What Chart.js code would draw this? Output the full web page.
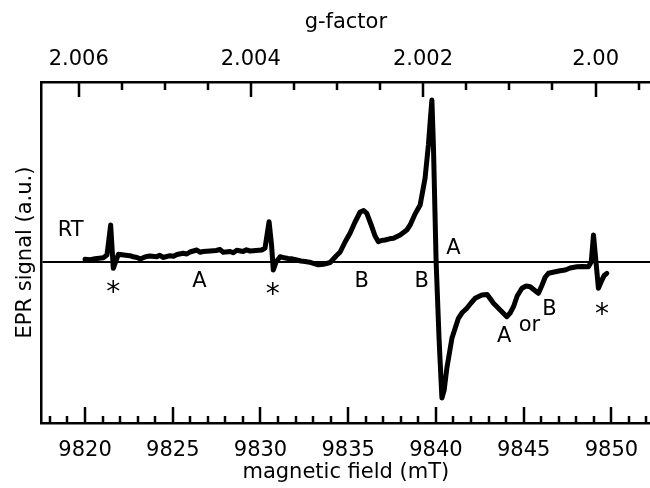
<!DOCTYPE html>
<html>
<head>
<meta charset="utf-8">
<script src="https://cdn.jsdelivr.net/npm/chart.js@4.4.1/dist/chart.umd.min.js"></script>
<style>
  html, body { margin: 0; padding: 0; background: #fff; }
  canvas { display: block; }
</style>
</head>
<body>
<canvas id="chart" width="650" height="488"></canvas>
<script>
// spectrum (field in mT, signal in a.u.)
const field = [
    9820.00, 9820.30, 9820.57, 9820.80, 9821.04, 9821.25, 9821.46, 9821.61, 9821.74, 9821.90,
    9822.20, 9822.56, 9822.75, 9822.96, 9823.15, 9823.32, 9823.50, 9823.70, 9824.09, 9824.25,
    9824.45, 9824.84, 9825.05, 9825.24, 9825.60, 9825.80, 9825.98, 9826.37, 9826.55, 9826.73,
    9827.13, 9827.47, 9827.70, 9827.88, 9828.27, 9828.45, 9828.65, 9829.01, 9829.20, 9829.41,
    9829.75, 9830.07, 9830.26, 9830.49, 9830.63, 9830.73, 9830.89, 9831.12, 9831.35, 9831.57,
    9831.80, 9832.07, 9832.30, 9832.54, 9832.80, 9833.01, 9833.30, 9833.58, 9833.97, 9834.31,
    9834.54, 9834.82, 9835.11, 9835.39, 9835.68, 9835.88, 9836.06, 9836.31, 9836.53, 9836.72,
    9836.90, 9837.10, 9837.35, 9837.58, 9837.96, 9838.34, 9838.53, 9838.81, 9839.10, 9839.38,
    9839.57, 9839.70, 9839.77, 9839.86, 9840.01, 9840.18, 9840.34, 9840.47, 9840.62, 9840.91,
    9841.28, 9841.50, 9841.76, 9842.00, 9842.23, 9842.62, 9842.92, 9843.28, 9843.66, 9844.04,
    9844.23, 9844.42, 9844.63, 9844.90, 9845.14, 9845.37, 9845.60, 9845.84, 9846.05, 9846.23,
    9846.41, 9846.74, 9847.08, 9847.37, 9847.65, 9848.03, 9848.34, 9848.69, 9848.85, 9848.98,
    9849.26, 9849.46, 9849.59, 9849.74
];
const signal = [
    0.27, 0.22, 0.33, 0.38, 0.43, 0.70, 3.70, -0.63, 0.00, 0.77,
    0.70, 0.63, 0.52, 0.45, 0.30, 0.43, 0.55, 0.60, 0.53, 0.68,
    0.45, 0.63, 0.58, 0.75, 0.87, 0.80, 1.00, 1.20, 0.98, 1.05,
    1.10, 1.15, 1.25, 0.97, 1.05, 0.92, 1.17, 1.05, 1.22, 1.10,
    1.15, 1.20, 1.40, 4.03, 1.70, -0.80, 0.00, 0.53, 0.42, 0.35,
    0.32, 0.20, 0.10, 0.05, -0.02, -0.13, -0.28, -0.23, -0.05, 0.60,
    1.00, 2.00, 2.90, 4.00, 5.00, 5.15, 4.87, 3.70, 2.60, 2.03,
    2.15, 2.20, 2.32, 2.37, 2.70, 3.20, 3.70, 4.80, 5.70, 8.37,
    11.70, 14.70, 16.20, 11.40, 0.03, -7.80, -13.60, -12.80, -10.63, -7.63,
    -5.63, -5.05, -4.63, -4.10, -3.63, -3.30, -3.25, -4.13, -4.80, -5.47,
    -5.10, -4.47, -3.40, -2.63, -2.40, -2.47, -2.80, -3.13, -2.30, -1.50,
    -1.13, -1.00, -0.87, -0.80, -0.60, -0.47, -0.45, -0.47, 0.00, 2.70,
    -2.63, -1.80, -1.35, -1.13
];

// axes
const fieldMin = 9817.53;
const fieldMax = 9852.2;
const signalMin = -16.1;
const signalMax = 18.0;
const fieldMajor = [9820, 9825, 9830, 9835, 9840, 9845, 9850];
const fieldMinorFirst = 9818;
const fieldMinorLast = 9852;
const gMajor = [2.006, 2.004, 2.002, 2.000];
const gLabels = ['2.006', '2.004', '2.002', '2.00'];
const gMinor = [2.0055, 2.0050, 2.0045, 2.0035, 2.0030, 2.0025, 2.0015, 2.0010, 2.0005, 1.9995];
const gTimesField = 19698.2;   // g * B (mT), from the 2.006 / 2.00 ticks

// labels written on the spectrum
const noteText = ['RT', '*', 'A', '*', 'B', 'B', 'A', 'A', 'or', 'B', '*'];
const noteField = [9819.18, 9821.61, 9826.52, 9830.70, 9835.77, 9839.19, 9840.99, 9843.89, 9845.33, 9846.47, 9849.46];
const noteSignal = [3.13, -3.2, -1.97, -3.37, -1.97, -1.97, 1.37, -7.47, -6.4, -4.8, -5.37];

const FONT = 'DejaVu Sans';
Chart.defaults.font.family = FONT;
Chart.defaults.font.size = 21;
Chart.defaults.color = '#000';

const points = field.map((b, i) => ({x: b, y: signal[i]}));

function fixWidth(w) {
    return function (scale) {
        scale.width = w;
        scale.paddingLeft = 0;
        scale.paddingRight = 0;
    };
}
function fixHeight(h) {
    return function (scale) {
        scale.height = h;
        scale.paddingLeft = 0;
        scale.paddingRight = 0;
    };
}

// ticks point into the plot, long ones at labelled values
const inwardTicks = {
    id: 'inwardTicks',
    afterDraw(chart) {
        const ctx = chart.ctx;
        const area = chart.chartArea;
        ctx.save();
        ctx.strokeStyle = '#000';
        ctx.lineWidth = 2.5;
        ctx.beginPath();
        chart.scales.x.ticks.forEach(t => {
            const px = Math.round(chart.scales.x.getPixelForValue(t.value));
            const len = t.long ? 16 : 7;
            ctx.moveTo(px, area.bottom);
            ctx.lineTo(px, area.bottom - len);
        });
        chart.scales.g.ticks.forEach(t => {
            const px = Math.round(chart.scales.g.getPixelForValue(t.value));
            const len = t.long ? 15 : 8;
            ctx.moveTo(px, area.top);
            ctx.lineTo(px, area.top + len);
        });
        ctx.stroke();

        ctx.fillStyle = '#000';
        ctx.textAlign = 'center';
        ctx.textBaseline = 'middle';
        noteText.forEach((txt, i) => {
            ctx.font = (txt === '*' ? 28 : 21) + 'px "' + FONT + '"';
            ctx.fillText(txt,
                chart.scales.x.getPixelForValue(noteField[i]),
                chart.scales.y.getPixelForValue(noteSignal[i]));
        });
        ctx.restore();
    }
};

const config = {
    type: 'line',
    data: {
        datasets: [{
            label: 'EPR',
            data: points,
            borderColor: '#000',
            borderWidth: 5,
            borderJoinStyle: 'round',
            borderCapStyle: 'round',
            pointRadius: 0,
            tension: 0,
            fill: false
        }]
    },
    options: {
        responsive: false,
        animation: false,
        layout: {padding: 0},
        plugins: {
            legend: {display: false},
            tooltip: {enabled: false}
        },
        scales: {
            x: {
                type: 'linear',
                position: 'bottom',
                min: fieldMin,
                max: fieldMax,
                afterBuildTicks(scale) {
                    const ticks = [];
                    for (let b = fieldMinorFirst; b <= fieldMinorLast; b++) {
                        ticks.push({value: b, long: fieldMajor.includes(b)});
                    }
                    scale.ticks = ticks;
                },
                afterFit: fixHeight(65),
                grid: {display: false, drawTicks: false},
                border: {display: true, color: '#000', width: 2.5},
                ticks: {
                    autoSkip: false,
                    maxRotation: 0,
                    minRotation: 0,
                    padding: 15,
                    callback: v => fieldMajor.includes(v) ? String(v) : ''
                },
                title: {
                    display: true,
                    text: 'magnetic field (mT)',
                    padding: {top: 0, bottom: 2.5}
                }
            },
            g: {
                type: 'linear',
                position: 'top',
                min: fieldMin,
                max: fieldMax,
                afterBuildTicks(scale) {
                    const ticks = [];
                    gMajor.forEach(g => ticks.push({value: gTimesField / g, long: true}));
                    gMinor.forEach(g => ticks.push({value: gTimesField / g, long: false}));
                    ticks.sort((a, b) => a.value - b.value);
                    scale.ticks = ticks;
                },
                afterFit: fixHeight(82),
                grid: {display: false, drawTicks: false},
                border: {display: true, color: '#000', width: 2.5},
                ticks: {
                    autoSkip: false,
                    maxRotation: 0,
                    minRotation: 0,
                    padding: 10,
                    callback: v => {
                        const i = gMajor.findIndex(g => Math.abs(gTimesField / g - v) < 1e-6);
                        return i >= 0 ? gLabels[i] : '';
                    }
                },
                title: {
                    display: true,
                    text: 'g-factor',
                    padding: {top: 10, bottom: 0}
                }
            },
            y: {
                type: 'linear',
                position: 'left',
                min: signalMin,
                max: signalMax,
                afterBuildTicks(scale) {
                    scale.ticks = [{value: 0}];
                },
                afterFit: fixWidth(41.7),
                grid: {
                    drawTicks: false,
                    lineWidth: 2,
                    color: c => (c.tick && c.tick.value === 0) ? '#000' : 'rgba(0,0,0,0)'
                },
                border: {display: true, color: '#000', width: 2.5},
                ticks: {display: false},
                title: {
                    display: true,
                    text: 'EPR signal (a.u.)',
                    padding: {top: 13, bottom: 0}
                }
            }
        }
    },
    plugins: [inwardTicks]
};

new Chart(document.getElementById('chart'), config);
</script>
</body>
</html>
